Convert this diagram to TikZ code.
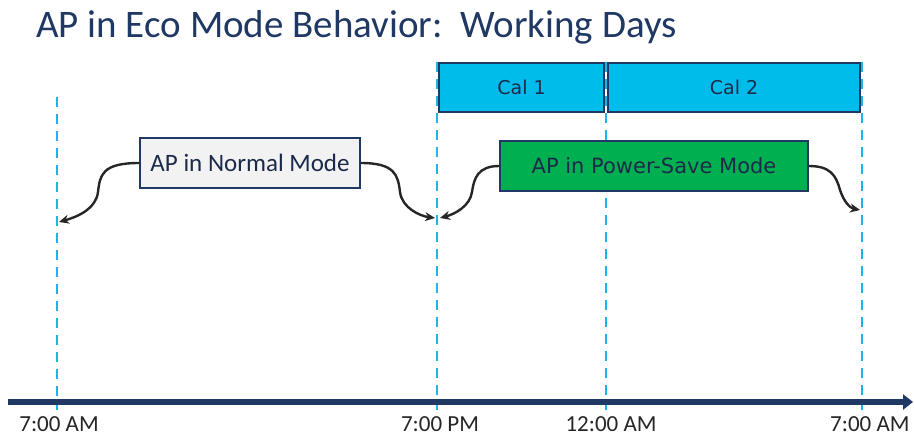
\documentclass[tikz,border=0pt]{standalone}
\usepackage{fontspec}
\setmainfont{Carlito}
\newfontfamily\verd{DejaVu Sans}
\usetikzlibrary{arrows.meta}
\definecolor{navy}{HTML}{1F3864}
\definecolor{txt}{HTML}{1B2A4A}
\definecolor{calc}{HTML}{00BCEB}
\definecolor{dash}{HTML}{1EB4E6}
\definecolor{psgreen}{HTML}{00B050}
\definecolor{normfill}{HTML}{F2F2F2}
\tikzset{
  guide/.style={draw=dash, line width=2.6pt, dash pattern=on 10pt off 7pt},
  calbox/.style={draw=navy, line width=1.2pt, fill=calc, text=txt, minimum height=49pt, inner sep=0pt, font=\verd\fontsize{19}{22}\selectfont},
  modebox/.style={draw=navy, line width=1.4pt, text=txt, minimum height=50pt, inner sep=0pt},
  brace/.style={draw=black!85, line width=2.4pt, -{Stealth[length=10pt,width=9pt]}},
  tlabel/.style={text=black!85, font=\fontsize{23}{26}\selectfont, anchor=north}
}
\begin{document}
\begin{tikzpicture}[x=1pt,y=-1pt]
\useasboundingbox (0,0) rectangle (914,438);
\fill[white] (0,0) rectangle (914,438);
% title
\node[anchor=west, text=navy, font=\fontsize{39}{42}\selectfont, inner sep=0pt] (title) at (36,27) {AP in Eco Mode Behavior:\ \ Working Days};
% guide lines
\coordinate (g1t) at (57,97);  \coordinate (g1b) at (57,410);
\coordinate (g2t) at (437,62); \coordinate (g2b) at (437,410);
\coordinate (g3t) at (606,62); \coordinate (g3b) at (606,410);
\coordinate (g4t) at (862,62); \coordinate (g4b) at (862,410);
\draw[guide] (g1t) -- (g1b);
\draw[guide] (g2t) -- (g2b);
\draw[guide] (g3t) -- (g3b);
\draw[guide] (g4t) -- (g4b);
% cal boxes
\node[calbox, minimum width=165pt] (cal1) at (521.5,87.5) {Cal 1};
\node[calbox, minimum width=252pt] (cal2) at (734,87.5) {Cal 2};
% mode boxes
\node[modebox, fill=normfill, minimum width=220pt, font=\fontsize{25}{28}\selectfont] (normal) at (250,163) {AP in Normal Mode};
\node[modebox, fill=psgreen, minimum width=308pt, font=\verd\fontsize{21}{24}\selectfont] (ps) at (654,166) {AP in Power-Save Mode};
% brace ends
\coordinate (e1) at (59,222);
\coordinate (e2) at (435,218);
\coordinate (e3) at (440,218);
\coordinate (e4) at (860,210);
\draw[brace] (normal.west) .. controls (102,163) and (100,175) .. (98,192) .. controls (96,208) and (80,216) .. (e1);
\draw[brace] (normal.east) .. controls (395,163) and (398,175) .. (400,192) .. controls (402,208) and (420,216) .. (e2);
\draw[brace] (ps.west) .. controls (478,166) and (474,178) .. (472,192) .. controls (470,206) and (455,214) .. (e3);
\draw[brace] (ps.east) .. controls (830,166) and (836,175) .. (840,190) .. controls (844,202) and (850,208) .. (e4);
% axis
\coordinate (a0) at (8,402);
\coordinate (a1) at (913,402);
\draw[navy, line width=5.5pt, -{Triangle[length=10pt,width=15pt]}] (a0) -- (a1);
% labels
\node[tlabel] (l1) at (59,413) {7:00 AM};
\node[tlabel] (l2) at (440,413) {7:00 PM};
\node[tlabel] (l3) at (611,413) {12:00 AM};
\node[tlabel, anchor=north east] (l4) at (913,413) {7:00 AM};
\end{tikzpicture}
\end{document}
